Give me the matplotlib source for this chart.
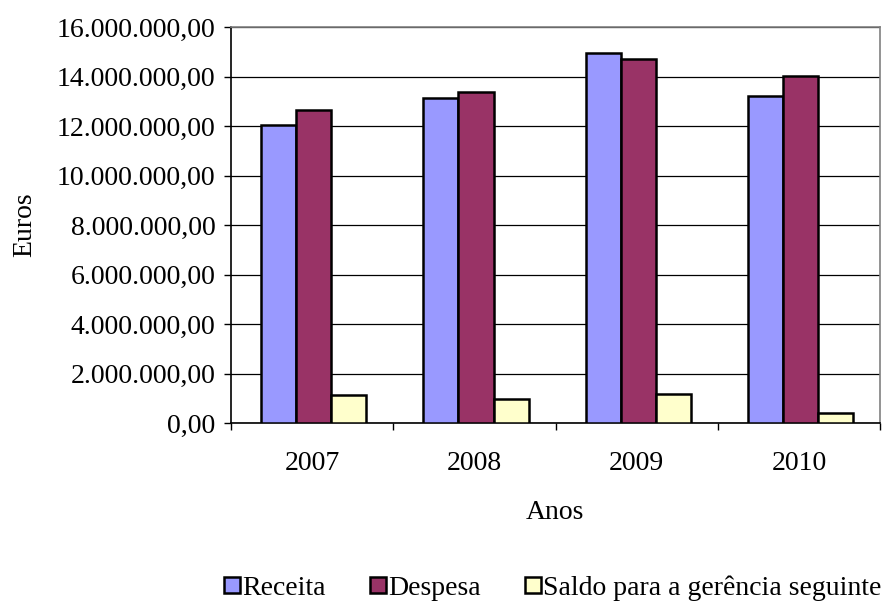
import matplotlib
matplotlib.use("Agg")
import matplotlib.pyplot as plt
import numpy as np
from matplotlib.ticker import FuncFormatter, MultipleLocator, FixedLocator

anos     = ["2007", "2008", "2009", "2010"]
receita  = [12040000, 13130000, 14960000, 13230000]
despesa  = [12660000, 13360000, 14710000, 14010000]
saldo    = [1150000, 950000, 1190000, 400000]

series = [
    ("Receita", receita, "#9999FF"),
    ("Despesa", despesa, "#993366"),
    ("Saldo para a gerência seguinte", saldo, "#FFFFCC"),
]

plt.rcParams["font.family"] = ["Liberation Serif", "DejaVu Serif"]
FS = 20


def euros(v, pos):
    s = f"{v:,.2f}"
    return s.replace(",", "X").replace(".", ",").replace("X", ".")


fig = plt.figure(figsize=(8.88, 6.03), dpi=100)
ax = fig.add_axes([231 / 888, 1 - 423 / 603, (880 - 231) / 888, (423 - 27) / 603])

x = np.arange(len(anos))
w = 0.216
for i, (name, vals, color) in enumerate(series):
    ax.bar(x + (i - 1) * w + 0.01, vals, width=w, color=color, edgecolor="black",
           linewidth=1.8, label=name, zorder=3)

ax.set_xlim(-0.5, len(anos) - 0.5)
ax.set_ylim(0, 16000000)
ax.yaxis.set_major_locator(MultipleLocator(2000000))
ax.yaxis.set_major_formatter(FuncFormatter(euros))
ax.set_xticks(x)
ax.set_xticklabels(anos)
ax.xaxis.set_minor_locator(FixedLocator(np.arange(-0.5, len(anos), 1.0)))
ax.tick_params(axis="x", which="major", length=0, labelsize=FS, pad=20)
ax.tick_params(axis="x", which="minor", length=5, width=1, direction="out")
ax.tick_params(axis="y", length=5, width=1, direction="out", labelsize=FS, pad=6)

ax.grid(axis="y", color="black", linewidth=0.9, zorder=0)
for side in ["top", "right"]:
    ax.spines[side].set_color("#808080")
    ax.spines[side].set_linewidth(1.2)
for side in ["left", "bottom"]:
    ax.spines[side].set_color("black")
    ax.spines[side].set_linewidth(1.2)

ax.set_ylabel("Euros", fontsize=FS)
ax.yaxis.set_label_coords(37 / 888, 1 - 225 / 603, transform=fig.transFigure)
ax.set_xlabel("Anos", fontsize=FS)
ax.xaxis.set_label_coords(555 / 888, 1 - 500 / 603, transform=fig.transFigure)

ax.legend(loc="center", bbox_to_anchor=(553 / 888, 1 - 588 / 603),
          bbox_transform=fig.transFigure, ncol=3, frameon=False, fontsize=FS,
          handlelength=0.55, handleheight=0.55, handletextpad=0.1, columnspacing=1.6,
          borderpad=0, borderaxespad=0)

plt.savefig("out.png", dpi=100)
plt.close()
